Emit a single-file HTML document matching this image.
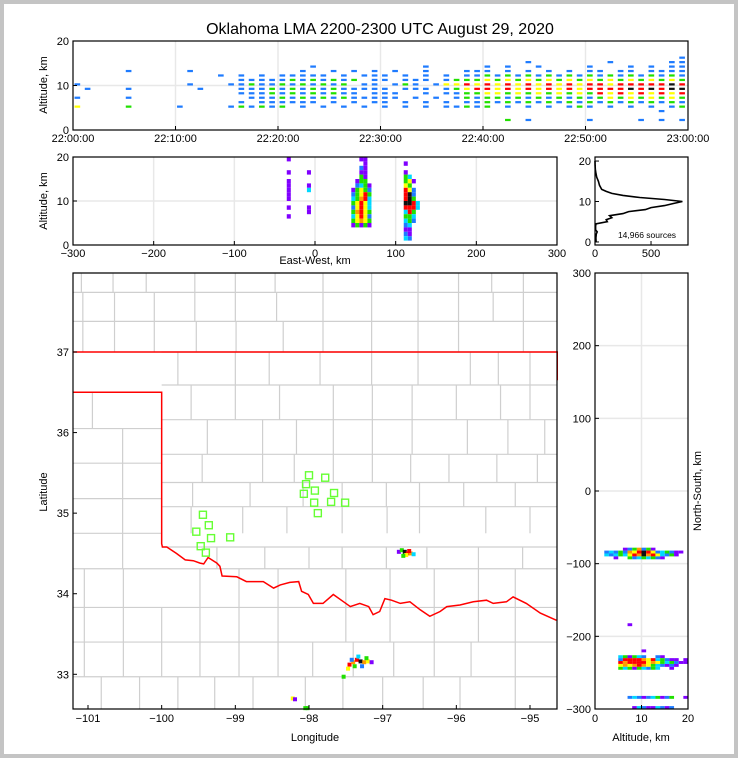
<!DOCTYPE html>
<html><head><meta charset="utf-8">
<style>
html,body{margin:0;padding:0;background:#c4c4c4;}
svg{display:block;font-family:"Liberation Sans","DejaVu Sans",sans-serif;}
text{fill:#000;}
</style></head>
<body>
<svg id="fig" width="738" height="758" viewBox="0 0 738 758" xmlns="http://www.w3.org/2000/svg">
<rect x="4" y="4" width="730" height="750" fill="#ffffff"/>
<text x="380" y="34" font-size="16" text-anchor="middle">Oklahoma LMA 2200-2300 UTC August 29, 2020</text>
<g id="layers"></g>
</svg>
<script>
// ---------- DATA ----------
const timeAltRowsKm = [16,15,14,13,12,11,10,9,8,7,6,5,4,3,2];
const timeAltGrid = [
"...........................................................1",
"............................................1.......1.....11",
".......................1..........1.....1.1..1....1...1.1.11",
".....1.....1..........1..1.1.1.1..1...111.1.1.1.1.11.11.1111",
"..............1.1.1.11111.1.111.1.1.1.11212121212121212121212".slice(0,60),
"................111112121212.11.111.12223232323232323232323232".slice(0,60),
"1..........1...112112121212.11.121.13343434343434344344444544".slice(0,60),
".1...1......1...111212121211111.111.1234434343434344445454554".slice(0,60),
"................111212121211.111..1.1122332323232324343434343".slice(0,60),
"1....1...........111212121211111.1.1.12122121212121232323232".slice(0,60),
"................1.111111.1.1.11.1.1.1.11212121212121212121212".slice(0,60),
"3....2....1....12121" + "2.1.1.1.1." + "1.1.1.1121" + "2.1.1.1.12" + "1.1.1.1.12",
".........................................................1..",
"............................................................",
"..........................................2.1.....1....1.1.1"
];
const ewStartKm = -40;
const ewStepKm = 5;
const ewAltRowsKm = [20,19,18,17,16,15,14,13,12,11,10,9,8,7,6,5,4,3,2];
const ewAltGrid = [
".p......"+"........."+"..pp.."+"......"+".....",
"........"+"........."+"...p.."+"......"+".p...",
"........"+"........."+"..1p.."+"......"+".....",
".p....p."+"........."+"..pp.."+"......"+".p...",
"........"+"........."+"..2p.."+"......"+".2c..",
".p......"+"........."+".p22.."+"......"+".23p.",
".p....p."+"........."+".1c2p."+"......"+".32..",
".p....c."+"........."+"p2321."+"......"+".431.",
".p......"+"........."+"12342."+"......"+".451.",
".p......"+"........."+"c2o4c."+"......"+".452.",
"........"+"........."+"2343c."+"......"+".554c",
".p....p."+"........."+"1343c."+"......"+".444c",
"......p."+"........."+"2o432."+"......"+".c42.",
".p......"+"........."+"c3431."+"......"+".22c.",
"........"+"........."+"23o32."+"......"+".c21.",
"........"+"........."+"p2p2p."+"......"+".1c..",
"........"+"........."+"......"+"......"+".pp..",
"........"+"........."+"......"+"......"+".1p..",
"........"+"........."+"......"+"......"+".c1.."
];
const histAltKm = [0,1,2,2.5,3,4,4.5,5,5.5,6,6.5,7,7.5,8,8.5,9,9.5,10,10.5,11,11.5,12,12.5,13,14,15,16,17,18,19,20];
const histCounts = [10,8,12,20,5,5,10,110,100,150,130,250,300,450,500,620,700,780,620,400,250,150,100,60,40,30,15,8,3,1,0];
const totalSources = "14,966 sources";
const nsRowsKm = [-80,-84,-88,-92,-184,-220,-228,-232,-236,-240,-244,-284,-298];
const nsAltGrid = [
"......p12o12p.......",
"..1c121o345431c21pp.",
"..c1c2c34o5o43c12p..",
"....p..21c2c21p.....",
".......p............",
"..........p.........",
".....c2p2c1..1p.....",
".....14444o34c21pp.p",
".....4o44443o32c21pp",
".....3o3o4o32c1p1p..",
".....2c2p2c12c..p...",
".......1c1p1c2p12..p",
"........pc1ppc1p1..."
];
const srcLon = [-96.78,-96.74,-96.70,-96.66,-96.62,-96.68,-96.58,-96.72,-96.64,-97.45,-97.40,-97.35,-97.30,-97.25,-97.20,-97.15,-97.33,-97.38,-97.28,-97.42,-97.22,-97.47,-98.22,-98.19,-98.05,-98.02,-97.53];
const srcLat = [34.52,34.54,34.52,34.50,34.50,34.48,34.49,34.47,34.53,33.12,33.15,33.18,33.16,33.15,33.16,33.15,33.22,33.10,33.10,33.18,33.20,33.07,32.70,32.69,32.58,32.58,32.97];
const srcLvl = ["p","2","5","4","o","3","c","2","4","4","o","4","5","o","3","p","c","2","1","1","2","3","3","p","2","2","2"];
const stationLon = [-98.00,-97.78,-98.04,-97.92,-98.07,-97.66,-97.93,-97.70,-97.51,-97.88,-99.44,-99.36,-99.53,-99.33,-99.07,-99.47,-99.40];
const stationLat = [35.47,35.44,35.36,35.28,35.24,35.25,35.13,35.14,35.13,35.00,34.98,34.85,34.77,34.69,34.70,34.59,34.51];
const riverLon = [-100,-99.99,-99.93,-99.80,-99.68,-99.57,-99.48,-99.43,-99.37,-99.25,-99.21,-99.18,-98.98,-98.85,-98.62,-98.48,-98.39,-98.26,-98.14,-98.10,-98.01,-97.94,-97.81,-97.67,-97.53,-97.44,-97.31,-97.19,-97.13,-97.04,-96.97,-96.88,-96.76,-96.63,-96.49,-96.36,-96.22,-96.13,-95.95,-95.77,-95.59,-95.50,-95.32,-95.23,-95.05,-94.86,-94.64];
const riverLat = [34.62,34.58,34.58,34.50,34.42,34.41,34.38,34.37,34.45,34.38,34.34,34.22,34.21,34.15,34.15,34.07,34.11,34.14,34.15,34.03,33.99,33.88,33.88,33.99,33.90,33.84,33.88,33.84,33.74,33.78,33.94,33.92,33.88,33.90,33.80,33.72,33.78,33.84,33.86,33.90,33.92,33.88,33.90,33.96,33.88,33.76,33.67];
const countyRowTop = [37.98,37.74,37.38,37.0,36.59,36.16,35.73,35.38,35.08,36.5,36.05,35.62,35.18,34.75,34.58,34.31,33.83,33.40,32.97];
const countyRowBot = [37.74,37.38,37.0,36.59,36.16,35.73,35.38,35.08,34.75,36.05,35.62,35.18,34.75,34.31,34.31,33.83,33.40,32.97,32.57];
const countyRowLo = [-101.2,-101.2,-101.2,-100,-100,-100,-100,-100,-100,-101.2,-101.2,-101.2,-101.2,-101.2,-100,-101.2,-101.2,-101.2,-101.2];
const countyRowHi = [-94.63,-94.63,-94.63,-94.63,-94.63,-94.63,-94.63,-94.63,-94.63,-100,-100,-100,-100,-100,-94.63,-94.63,-94.63,-94.63,-94.63];
const countyRowLons = [
[-101.09,-100.66,-100.21,-99.55,-99.0,-98.46,-97.81,-97.15,-96.52,-95.97,-95.52,-95.09],
[-101.07,-100.64,-100.1,-99.55,-99.0,-98.44,-97.81,-97.15,-96.52,-95.97,-95.5,-95.09],
[-101.07,-100.64,-100.1,-99.53,-98.99,-98.35,-97.81,-97.15,-96.52,-95.97,-95.09],
[-99.78,-99.0,-98.54,-97.85,-97.15,-96.52,-95.81,-95.43,-95.0],
[-99.6,-99.0,-98.4,-97.67,-97.14,-96.6,-96.0,-95.4,-95.0],
[-99.38,-98.63,-98.17,-97.67,-97.14,-96.6,-95.85,-95.3,-94.8],
[-99.45,-98.63,-98.2,-97.67,-97.14,-96.62,-96.1,-95.45,-94.9],
[-99.58,-98.8,-98.08,-97.55,-96.95,-96.5,-95.9,-95.2],
[-99.6,-98.9,-98.3,-97.55,-96.94,-96.5,-95.6,-95.0],
[-100.94],
[-100.53],
[-100.53],
[-100.53],
[-100.53],
[-99.25,-98.6,-98.0,-97.55,-96.95,-96.4,-95.7,-95.1],
[-101.05,-100.52,-99.48,-98.95,-98.42,-97.5,-96.9,-96.3,-95.7,-95.2],
[-101.05,-100.52,-100.0,-99.48,-98.95,-98.42,-97.5,-96.9,-96.3,-95.7,-95.2],
[-101.05,-100.52,-100.0,-99.48,-98.95,-98.42,-97.95,-97.4,-96.85,-96.3,-95.8,-95.2],
[-100.82,-100.3,-99.78,-99.28,-98.76,-98.05,-97.54,-97.0,-96.45,-95.95,-95.2]
];
const timeTicks = ["22:00:00","22:10:00","22:20:00","22:30:00","22:40:00","22:50:00","23:00:00"];
const altTicks = [0,10,20];
const ewTicks = [-300,-200,-100,0,100,200,300];
const histTicks = [0,500];
const lonTicks = [-101,-100,-99,-98,-97,-96,-95];
const latTicks = [33,34,35,36,37];
const nsTicks = [-300,-200,-100,0,100,200,300];
const altTicks2 = [0,10,20];

// ---------- RENDER ----------
const NS = "http://www.w3.org/2000/svg";
const root = document.getElementById('layers');
const COL = {p:"#8000ff","1":"#1e7bff",c:"#00d8ff","2":"#20e000","3":"#ffff00",o:"#ff9900","4":"#ff0000","5":"#101010"};
function el(tag, attrs, parent){
  const e = document.createElementNS(NS, tag);
  for (const k in attrs) e.setAttribute(k, attrs[k]);
  (parent||root).appendChild(e);
  return e;
}
function lin(d0,d1,r0,r1){ return v => r0 + (v-d0)*(r1-r0)/(d1-d0); }
function fmt(v){ return v<0 ? "\u2212"+Math.abs(v) : String(v); }

function frame(name,x0,y0,x1,y1){
  const r = el('rect',{x:x0,y:y0,width:x1-x0,height:y1-y0,fill:'none',stroke:'#000','stroke-width':1.2});
  
  
}
function gridV(name,x,y0,y1){
  const l = el('line',{x1:x,x2:x,y1:y0,y2:y1,stroke:'#e8e8e8','stroke-width':1.5});
  
  
}
function gridH(name,y,x0,x1){
  const l = el('line',{x1:x0,x2:x1,y1:y,y2:y,stroke:'#e8e8e8','stroke-width':1.5});
  
  
}
function xTick(name,x,yb,label,ty){
  const t = el('line',{x1:x,x2:x,y1:yb,y2:yb-4,stroke:'#000','stroke-width':1});
  
  
  const tx = el('text',{x:x,y:ty,'font-size':11,'text-anchor':'middle'});
  tx.textContent = label;
  
  
}
function yTick(name,y,xl,label){
  const t = el('line',{x1:xl,x2:xl+4,y1:y,y2:y,stroke:'#000','stroke-width':1});
  
  
  const tx = el('text',{x:xl-4,y:y+4,'font-size':11,'text-anchor':'end'});
  tx.textContent = label;
  
  
}
function label(name,x,y,txt,rot){
  const t = el('text',{x:x,y:y,'font-size':11,'text-anchor':'middle'});
  if (rot) t.setAttribute('transform','rotate(-90 '+x+' '+y+')');
  t.textContent = txt;
  
  
}

// ----- Top panel -----
(function(){
  const L=73,R=688,T=41,B=130;
  const X = lin(0,60,L,R), Y = lin(0,20,B,T);
  for (let m=10;m<60;m+=10) gridV('time-gridline',X(m),T,B);
  gridH('alt-gridline',Y(10),L,R);
  const cw = X(1)-X(0), ch = Y(0)-Y(1);
  timeAltGrid.forEach((row,ri)=>{
    for (let i=0;i<row.length && i<60;i++){
      const c=row[i]; if(c==='.') continue;
      const r = el('rect',{x:X(i)+cw*0.15,y:Y(timeAltRowsKm[ri]+0.5),width:cw*0.55,height:ch*0.5,fill:COL[c]});
      
      
    }
  });
  frame('time-alt-frame',L,T,R,B);
  timeTicks.forEach((t,i)=>xTick('time-tick',X(i*10),B,t,142));
  altTicks.forEach(v=>yTick('alt-tick',Y(v),L,String(v)));
  label('time-alt-y-title',47,85,'Altitude, km',true);
})();

// ----- Middle panel -----
(function(){
  const L=73,R=557,T=157,B=245;
  const X = lin(-300,300,L,R), Y = lin(0,20,B,T);
  for (let v=-200;v<=200;v+=100) gridV('ew-gridline',X(v),T,B);
  gridH('alt-gridline',Y(10),L,R);
  const cw = X(ewStepKm)-X(0), ch = Y(0)-Y(1);
  ewAltGrid.forEach((row,ri)=>{
    for (let i=0;i<row.length;i++){
      const c=row[i]; if(c==='.') continue;
      const r = el('rect',{x:X(ewStartKm+i*ewStepKm),y:Y(ewAltRowsKm[ri]),width:cw,height:ch,fill:COL[c]});
      
      
    }
  });
  frame('ew-alt-frame',L,T,R,B);
  ewTicks.forEach(v=>xTick('ew-tick',X(v),B,fmt(v),257));
  altTicks.forEach(v=>yTick('alt-tick',Y(v),L,String(v)));
  label('ew-alt-y-title',47,201,'Altitude, km',true);
  label('ew-x-title',315,264,'East-West, km',false);
})();

// ----- Histogram -----
(function(){
  const L=595,R=688,T=157,B=245;
  const X = lin(0,830,L,R), Y = lin(-0.75,21,B,T);
  const pts = histAltKm.map((a,i)=>X(histCounts[i]).toFixed(1)+','+Y(a).toFixed(1)).join(' ');
  const p = el('polyline',{points:pts,fill:'none',stroke:'#000','stroke-width':1.6});
  
  
  frame('histogram-frame',L,T,R,B);
  histTicks.forEach(v=>xTick('hist-tick',X(v),B,String(v),257));
  altTicks.forEach(v=>yTick('hist-alt-tick',Y(v),L,String(v)));
  const t = el('text',{x:647,y:238,'font-size':8.5,'text-anchor':'middle'});
  t.textContent = totalSources;
  
  
})();

// ----- Map -----
(function(){
  const L=73,R=557,T=273,B=709;
  const X = lin(-101,-95,88,530), Y = lin(37,33,352,674.3);
  const g = el('g',{});
  
  
  countyRowTop.forEach((lt,i)=>{
    const h = el('line',{x1:X(countyRowLo[i]),x2:X(countyRowHi[i]),y1:Y(lt),y2:Y(lt),stroke:'#cfcfcf','stroke-width':1.2},g);
    
    
    countyRowLons[i].forEach(lo=>{
      const v = el('line',{x1:X(lo),x2:X(lo),y1:Y(lt),y2:Y(countyRowBot[i]),stroke:'#cfcfcf','stroke-width':1.2},g);
      
      
    });
  });
  let d = 'M'+X(-101.2)+','+Y(37)+' L'+X(-94.63)+','+Y(37)+' L'+X(-94.63)+','+Y(36.65);
  d += ' M'+X(-101.2)+','+Y(36.5)+' L'+X(-100)+','+Y(36.5)+' L'+X(-100)+','+Y(34.62);
  riverLon.forEach((lo,i)=>{ d += ' L'+X(lo).toFixed(1)+','+Y(riverLat[i]).toFixed(1); });
  const sb = el('path',{d:d,fill:'none',stroke:'#ff0000','stroke-width':1.5});
  
  
  stationLon.forEach((lo,i)=>{
    const s = el('rect',{x:X(lo)-3.5,y:Y(stationLat[i])-3.5,width:7,height:7,fill:'none',stroke:'#66ff33','stroke-width':1.4});
    
    
  });
  srcLon.forEach((lo,i)=>{
    const s = el('rect',{x:X(lo)-2,y:Y(srcLat[i])-2,width:4,height:4,fill:COL[srcLvl[i]]});
    
    
  });
  frame('map-frame',L,T,R,B);
  lonTicks.forEach(v=>xTick('lon-tick',X(v),B,fmt(v),722));
  latTicks.forEach(v=>yTick('lat-tick',Y(v),L,String(v)));
  label('map-y-title',47,492,'Latitude',true);
  label('map-x-title',315,741,'Longitude',false);
})();

// ----- NS panel -----
(function(){
  const L=595,R=688,T=273,B=709;
  const X = lin(0,20,L,R), Y = lin(-300,300,B,T);
  gridV('alt-gridline',X(10),T,B);
  for (let v=-200;v<=200;v+=100) gridH('ns-gridline',Y(v),L,R);
  const cw = X(1)-X(0), ch = Y(0)-Y(4);
  nsAltGrid.forEach((row,ri)=>{
    for (let i=0;i<row.length;i++){
      const c=row[i]; if(c==='.') continue;
      const r = el('rect',{x:X(i),y:Y(nsRowsKm[ri]+2),width:cw,height:ch,fill:COL[c]});
      
      
    }
  });
  frame('ns-alt-frame',L,T,R,B);
  altTicks2.forEach(v=>xTick('ns-alt-tick',X(v),B,String(v),722));
  nsTicks.forEach(v=>yTick('ns-tick',Y(v),L,fmt(v)));
  label('ns-y-title',701,491,'North-South, km',true);
  label('ns-x-title',641,741,'Altitude, km',false);
})();
</script>
</body></html>
